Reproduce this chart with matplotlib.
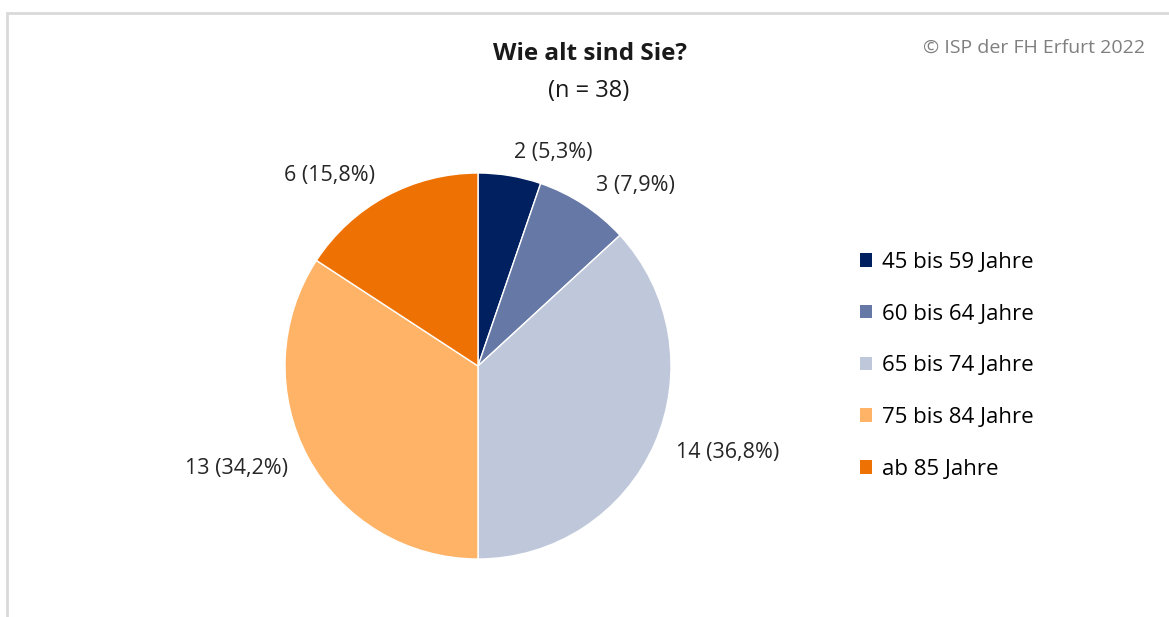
import matplotlib
matplotlib.use("Agg")
import matplotlib.pyplot as plt
from matplotlib.patches import Rectangle, Patch

# data
categories = ['45 bis 59 Jahre', '60 bis 64 Jahre', '65 bis 74 Jahre', '75 bis 84 Jahre', 'ab 85 Jahre']
counts = [2, 3, 14, 13, 6]
colors = ['#002060', '#6678A5', '#BFC8DA', '#FFB366', '#EE7203']
n_total = sum(counts)

plt.rcParams['font.family'] = ['Open Sans', 'DejaVu Sans']

W, H = 1169, 617
fig = plt.figure(figsize=(W / 100, H / 100), dpi=100)

# light grey frame
fig.patches.append(Rectangle((6.5 / W, -0.01), 1.1, 1 - 12.5 / H + 0.01, transform=fig.transFigure,
                             fill=False, edgecolor='#d9d9d9', linewidth=2))

cx, cy, r = 478, H - 366, 193
ax = fig.add_axes([(cx - r) / W, (cy - r) / H, 2 * r / W, 2 * r / H])

labels = []
for c in counts:
    pct = ('%.1f' % (100 * c / n_total)).replace('.', ',')
    labels.append('%d (%s%%)' % (c, pct))

wedges, texts = ax.pie(counts, colors=colors, startangle=90, counterclock=False,
                       labels=labels, labeldistance=1.12,
                       wedgeprops=dict(edgecolor='white', linewidth=1.0),
                       textprops=dict(fontsize=15.5, color='#262626'))
ax.set_xlim(-1, 1)
ax.set_ylim(-1, 1)
ax.set_aspect('equal')
ax.axis('off')

fig.text(590 / W, 1 - 54 / H, 'Wie alt sind Sie?', ha='center', va='center',
         fontsize=17.5, fontweight='bold', color='#1a1a1a')
fig.text(589 / W, 1 - 91 / H, '(n = 38)', ha='center', va='center',
         fontsize=17, color='#1a1a1a')
fig.text(1145 / W, 1 - 48 / H, '\u00a9 ISP der FH Erfurt 2022', ha='right', va='center',
         fontsize=14, color='#7f7f7f')

handles = [Patch(facecolor=col, edgecolor='none') for col in colors]
fig.legend(handles, categories, loc='upper left', bbox_to_anchor=(860 / W, 1 - 252 / H),
           frameon=False, fontsize=16, handlelength=0.55, handleheight=0.55,
           handletextpad=0.45, labelspacing=1.38, borderaxespad=0, borderpad=0)

fig.savefig('out.png', dpi=100, facecolor='white')
